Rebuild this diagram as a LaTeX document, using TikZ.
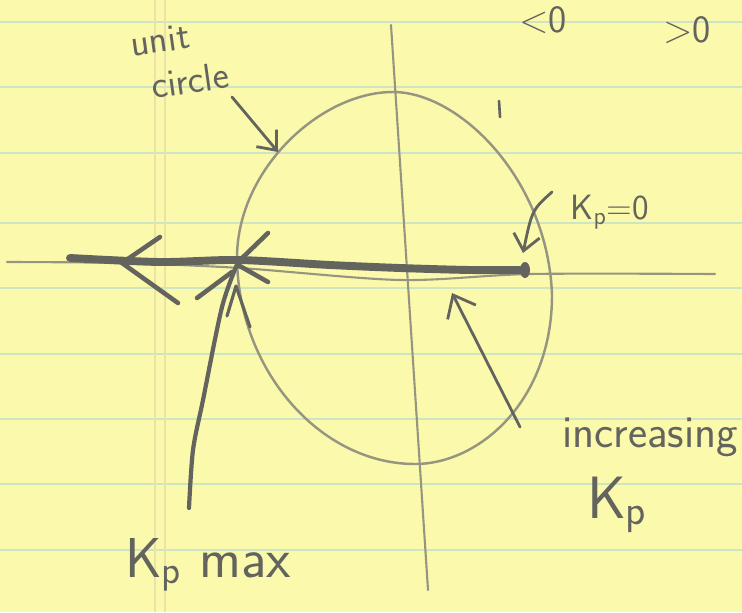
\documentclass[tikz,border=0pt]{standalone}
\usepackage{fontspec}
\usepackage{tikz}
\usetikzlibrary{arrows.meta}
\definecolor{cPaper}{RGB}{251,249,172}
\definecolor{cRule}{RGB}{206,229,196}
\definecolor{cMargin}{RGB}{236,226,168}
\definecolor{cPencil}{RGB}{100,100,94}
\definecolor{cFaint}{RGB}{150,150,128}

\begin{document}
\begin{tikzpicture}[x=0.02cm,y=-0.02cm,
  axisline/.style={cFaint,line width=1.2pt,line cap=round},
  locus/.style={cPencil,line width=4.5pt,line cap=round},
  tick/.style={cPencil,line width=2.6pt,line cap=round,line join=round},
  pointer/.style={cPencil,line width=1.6pt,line cap=round,
    -{Straight Barb[length=9pt,width=15pt,line width=1.6pt]}},
  scrawl/.style={text=cPencil,inner sep=0pt,font=\sffamily\fontsize{24}{26}\selectfont}]
 \useasboundingbox (0,0) rectangle (742,612);
 % ---- paper ----
 \fill[cPaper] (0,0) rectangle (742,612);
 \foreach \ry in {22,87,153,223,288,354,419,484,550}
   \draw[cRule,line width=1.5pt] (0,\ry) -- (742,\ry);
 \foreach \mx in {155,165}
   \draw[cMargin,line width=0.8pt] (\mx,0) -- (\mx,612);
 % ---- axes and unit circle ----
 \draw[axisline] (391,25) -- (428,590);
 \draw[axisline] plot[smooth] coordinates {(7,262) (120,263) (240,268) (400,280) (530,274) (715,274)};
 \draw[axisline,line width=1.4pt] (393,92) .. controls (460,92) and (548,180) .. (552,295)
   .. controls (552,400) and (480,464) .. (415,464)
   .. controls (320,464) and (238,370) .. (237,258)
   .. controls (237,170) and (320,92) .. (393,92) -- cycle;
 % ---- locus ----
 \draw[locus] plot[smooth] coordinates {(70,258) (160,262) (238,260) (330,265) (400,268) (470,270) (525,270)};
 \fill[cPencil] (525,270) ellipse [x radius=5,y radius=8];
 \draw[tick] (160,237) -- (122,263) -- (178,303);
 \draw[tick] (268,233) -- (238,262);
 \draw[tick] (238,265) -- (268,282);
 \draw[tick] (197,298) -- (232,272);
 \draw[tick,line width=2.4pt] plot[smooth] coordinates {(189,508) (193,450) (203,400) (222,307) (238,262)};
 \draw[tick,line width=1.8pt] (227,316) -- (236,286) -- (250,327);
 \draw[cPencil,line width=1.5pt,line cap=round] (499,101) -- (500,117);
 % ---- labels ----
 \node[scrawl,font=\sffamily\fontsize{22}{24}\selectfont,rotate=8] (unitlbl) at (160,40) {unit};
 \node[scrawl,font=\sffamily\fontsize{22}{24}\selectfont,rotate=8] (circlbl) at (190,80) {circle};
 \coordinate (ucfrom) at (232,97);
 \coordinate (ucto) at (278,152);
 \draw[pointer] (ucfrom) -- (ucto);
 \node[scrawl,font=\sffamily\fontsize{22}{24}\selectfont] (ltzero) at (543,20) {<0};
 \node[scrawl,font=\sffamily\fontsize{22}{24}\selectfont] (gtzero) at (687,30) {>0};
 \node[scrawl,font=\sffamily\fontsize{20}{22}\selectfont] (kzero) at (610,212) {K\textsubscript{p}=0};
 \coordinate (kzfrom) at (552,192);
 \coordinate (kzto) at (523,253);
 \draw[pointer] (kzfrom) .. controls (532,210) .. (kzto);
 \node[scrawl,font=\sffamily\fontsize{26}{28}\selectfont] (incr) at (650,437) {increasing};
 \node[scrawl,font=\sffamily\fontsize{34}{36}\selectfont] (incrk) at (617,505) {K\textsubscript{p}};
 \coordinate (incfrom) at (520,427);
 \coordinate (incto) at (452,293);
 \draw[pointer,-{Straight Barb[length=11pt,width=18pt,line width=1.6pt]}] (incfrom) -- (incto);
 \node[scrawl,font=\sffamily\fontsize{32}{34}\selectfont] (kmax) at (208,565) {K\textsubscript{p} max};
\end{tikzpicture}
\end{document}
